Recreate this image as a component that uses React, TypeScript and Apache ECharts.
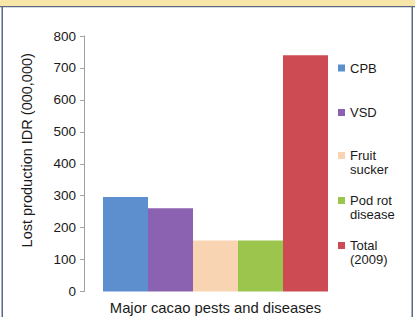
import React, { useEffect, useRef } from "react";
import * as echarts from "echarts";

const categories = ["Major cacao pests and diseases"];
const seriesNames = ["CPB", "VSD", "Fruit\nsucker", "Pod rot\ndisease", "Total\n(2009)"];
const seriesValues = [296, 261, 160, 160, 740];
const seriesColors = ["#5d8fcf", "#8b62b1", "#f9d4b2", "#9cc54e", "#cd4b53"];
const yTicks = { min: 0, max: 800, interval: 100 };
const legendTops = [61, 105.5, 134.5, 179.5, 224.5];

export default function App() {
  const ref = useRef<HTMLDivElement>(null);
  useEffect(() => {
    document.body.style.margin = "0";
    const chart = echarts.init(ref.current!, null, { renderer: "svg" });
    const font = "'Liberation Sans', Arial, Helvetica, sans-serif";
    chart.setOption({
      animation: false,
      backgroundColor: "#ffffff",
      textStyle: { fontFamily: font },
      graphic: [
        { type: "rect", shape: { x: 0, y: 0, width: 415, height: 6 }, style: { fill: "#f8e5a8" }, silent: true },
        { type: "rect", shape: { x: 0, y: 6, width: 415, height: 1.2 }, style: { fill: "#5a6884" }, silent: true },
        { type: "rect", shape: { x: 1.5, y: 6, width: 1.5, height: 311 }, style: { fill: "#5a6884" }, silent: true },
        { type: "rect", shape: { x: 411.5, y: 6, width: 1.5, height: 311 }, style: { fill: "#5a6884" }, silent: true },
      ],
      grid: { left: 84, right: 68, top: 36, bottom: 25.5, containLabel: false },
      xAxis: {
        type: "category",
        data: categories,
        axisLine: { show: false },
        axisTick: { show: false },
        axisLabel: { margin: 9, fontSize: 14.8, color: "#1a1a1a", fontFamily: font },
      },
      yAxis: {
        type: "value",
        min: yTicks.min,
        max: yTicks.max,
        interval: yTicks.interval,
        name: "Lost production IDR (000,000)",
        nameLocation: "middle",
        nameRotate: 90,
        nameGap: 50,
        nameTextStyle: { fontSize: 14.5, color: "#1a1a1a", fontFamily: font, padding: [0, 0, 0, 27] },
        axisLine: { show: true, lineStyle: { color: "#a0a0a0", width: 1 } },
        axisTick: { show: true, length: 4, lineStyle: { color: "#a0a0a0" } },
        axisLabel: { margin: 8, fontSize: 13.5, color: "#1a1a1a", fontFamily: font },
        splitLine: { show: false },
      },
      legend: seriesNames.map((n, i) => ({
        data: [n],
        orient: "vertical",
        left: 338,
        top: legendTops[i],
        padding: 0,
        icon: "rect",
        itemWidth: 7,
        itemHeight: 7,
        selectedMode: false,
        formatter: (name: string) => (name.includes("\n") ? " \n" + name : name),
        textStyle: {
          fontSize: 13,
          color: "#1a1a1a",
          fontFamily: font,
          lineHeight: 14,
        },
      })),
      series: seriesNames.map((n, i) => ({
        type: "bar",
        name: n,
        data: [seriesValues[i]],
        barWidth: 45,
        barGap: "0%",
        itemStyle: { color: seriesColors[i] },
      })),
    });
    return () => chart.dispose();
  }, []);
  return <div ref={ref} style={{ width: 415, height: 317 }} />;
}
